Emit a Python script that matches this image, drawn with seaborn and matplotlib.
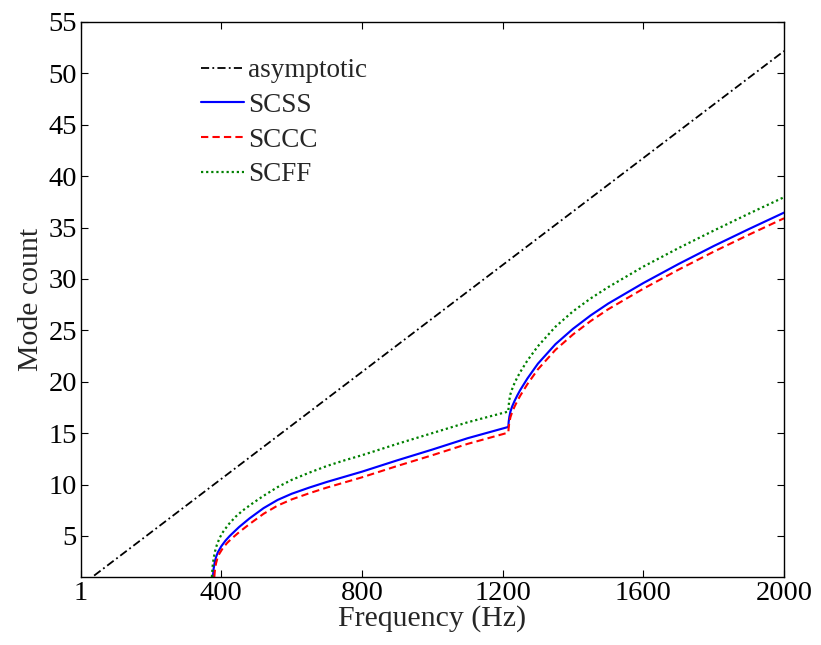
import matplotlib
matplotlib.use("Agg")
import matplotlib.pyplot as plt
import seaborn as sns
import pandas as pd

# Asymptotic mode count (straight line)
asym_freq = [1, 2000]
asym_count = [0.17, 52.17]

# SCSS boundary condition
scss_freq = [376, 378, 381, 385, 390, 400, 412, 424, 450, 480, 520, 560, 600, 650, 700, 750, 800,
             900, 1000, 1100, 1216, 1217, 1219, 1222, 1227, 1234, 1242, 1250, 1270, 1300, 1350,
             1400, 1450, 1500, 1600, 1700, 1800, 1900, 2000]
scss_count = [1.0, 1.8, 2.4, 2.95, 3.4, 4.0, 4.55, 5.0, 5.85, 6.7, 7.7, 8.5, 9.1, 9.7, 10.25, 10.75, 11.25,
              12.35, 13.4, 14.5, 15.6, 16.1, 16.6, 17.1, 17.6, 18.15, 18.7, 19.2, 20.3, 21.75, 23.65,
              25.15, 26.45, 27.6, 29.6, 31.45, 33.2, 34.85, 36.45]

# SCCC boundary condition
sccc_freq = [380, 382, 385, 389, 394, 404, 416, 428, 450, 480, 520, 560, 600, 650, 700, 750, 800,
             900, 1000, 1100, 1216, 1217, 1219, 1222, 1227, 1234, 1242, 1250, 1270, 1300, 1350,
             1400, 1450, 1500, 1600, 1700, 1800, 1900, 2000]
sccc_count = [1.0, 1.8, 2.35, 2.85, 3.25, 3.8, 4.3, 4.7, 5.35, 6.15, 7.15, 7.95, 8.55, 9.15, 9.7, 10.2, 10.7,
              11.8, 12.85, 13.95, 15.05, 15.55, 16.05, 16.55, 17.05, 17.6, 18.15, 18.65, 19.75, 21.2, 23.1,
              24.6, 25.9, 27.05, 29.05, 30.9, 32.65, 34.3, 35.9]

# SCFF boundary condition
scff_freq = [373, 375, 378, 382, 387, 395, 405, 420, 440, 460, 490, 520, 560, 600, 650, 700, 750, 800,
             900, 1000, 1100, 1216, 1217, 1219, 1222, 1227, 1234, 1242, 1250, 1270, 1300, 1350,
             1400, 1450, 1500, 1600, 1700, 1800, 1900, 2000]
scff_count = [1.0, 2.0, 2.8, 3.5, 4.1, 4.8, 5.4, 6.1, 6.85, 7.45, 8.2, 8.9, 9.75, 10.45, 11.15, 11.8, 12.35, 12.85,
              13.95, 15.0, 16.05, 17.1, 17.7, 18.25, 18.8, 19.3, 19.9, 20.45, 20.95, 22.05, 23.45, 25.35,
              26.85, 28.1, 29.2, 31.2, 33.0, 34.7, 36.35, 37.95]

x_ticks = [1, 400, 800, 1200, 1600, 2000]
y_ticks = [5, 10, 15, 20, 25, 30, 35, 40, 45, 50, 55]

sns.set_style("ticks")
plt.rcParams["font.family"] = ["Liberation Serif", "DejaVu Serif"]

fig = plt.figure(figsize=(8.21, 6.45), dpi=100)
ax = fig.add_axes([0.0987, 0.1054, 0.8563, 0.8606])

series = [
    ("asymptotic", asym_freq, asym_count, "black", (0, (4.5, 1.8, 1, 1.8)), 1.3),
    ("SCSS", scss_freq, scss_count, "#0000ff", "-", 1.55),
    ("SCCC", sccc_freq, sccc_count, "#ff0000", (0, (3.5, 2)), 1.5),
    ("SCFF", scff_freq, scff_count, "#008000", (0, (1, 1.3)), 1.6),
]
for name, fx, fy, color, ls, lw in series:
    df = pd.DataFrame({"Frequency": fx, "Count": fy})
    sns.lineplot(data=df, x="Frequency", y="Count", ax=ax, color=color,
                 linestyle=ls, linewidth=lw, label=name, sort=False, estimator=None)

ax.set_xlim(1, 2000)
ax.set_ylim(1, 55)
ax.set_xticks(x_ticks)
ax.set_xticklabels([str(t) for t in x_ticks])
ax.set_yticks(y_ticks)
ax.set_yticklabels([str(t) for t in y_ticks])
ax.tick_params(direction="in", length=5, width=0.8, labelsize=20.5, top=True, right=True,
               colors="black", pad=3)
for sp in ax.spines.values():
    sp.set_visible(True)
    sp.set_color("black")
    sp.set_linewidth(1.0)

ax.set_xlabel("Frequency (Hz)", fontsize=21.5, labelpad=-1)
ax.set_ylabel("Mode count", fontsize=21.5, labelpad=3)

leg = ax.legend(loc="upper left", bbox_to_anchor=(0.170, 0.935), frameon=False,
                fontsize=19.5, handlelength=1.6, handletextpad=0.15, labelspacing=0.36,
                borderaxespad=0, borderpad=0)

fig.savefig("out.png", dpi=100)
